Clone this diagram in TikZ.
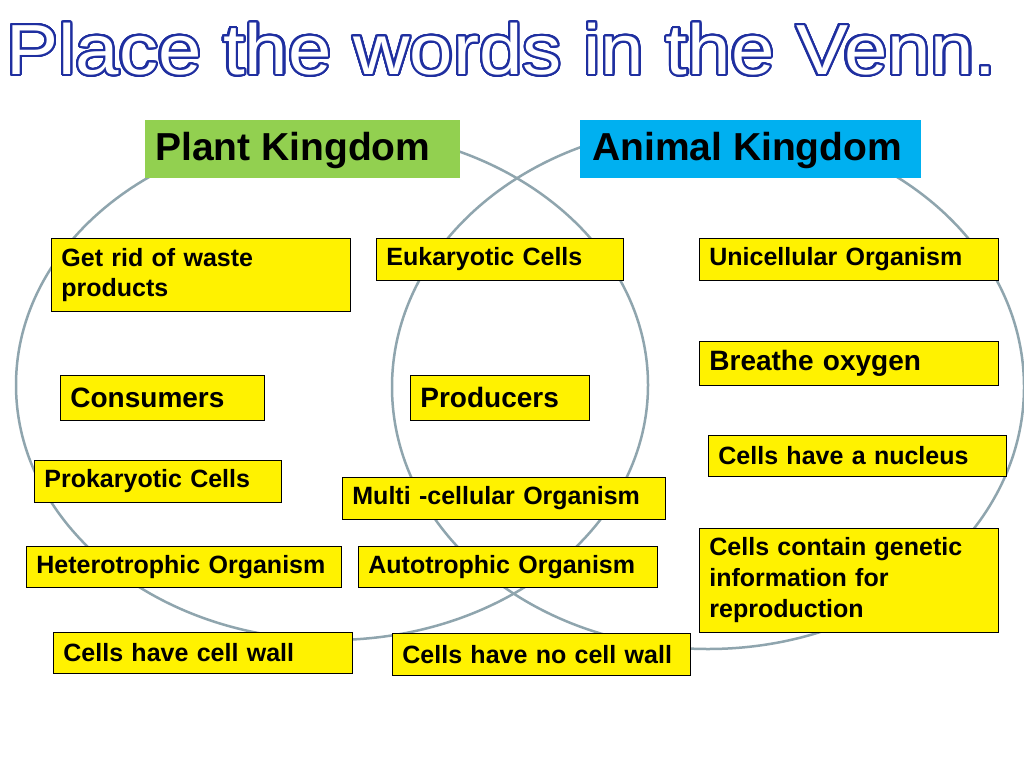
\documentclass[tikz,border=0pt]{standalone}
\usepackage{fontspec}
\setmainfont{Liberation Sans}
\usepackage{contour}
\contourlength{2pt}
\contournumber{32}
\definecolor{vennline}{HTML}{8FA5AE}
\definecolor{plantg}{HTML}{92D050}
\definecolor{animb}{HTML}{00B0F0}
\definecolor{titleblue}{HTML}{1F2FA0}
\begin{document}
\begin{tikzpicture}[x=1pt,y=-1pt,
  venn/.style={draw=vennline,line width=2.5pt},
  head/.style={anchor=north west,inner sep=0pt,font=\bfseries\fontsize{39}{44}\selectfont,align=left},
  box/.style={draw=black,line width=0.8pt,fill=yellow,anchor=north west,inner xsep=10pt,inner ysep=0pt,align=left,font=\bfseries\fontsize{25}{30}\selectfont}]
\useasboundingbox (0,0) rectangle (1024,768);
\fill[white] (0,0) rectangle (1024,768);
\draw[venn] (332,385) ellipse [x radius=316,y radius=255];
\draw[venn] (708,387) ellipse [x radius=316,y radius=262];
\node[anchor=west,inner sep=0pt,xscale=1.1] (title) at (6,50) {\fontsize{71}{80}\selectfont\contour{titleblue}{\textcolor{white}{Place the words in the Venn.}}};
\fill[plantg] (145,120) rectangle (460,178);
\node[head,anchor=west] (plant) at (155,151) {Plant Kingdom};
\fill[animb] (580,120) rectangle (921,178);
\node[head,anchor=west] (animal) at (592,151) {Animal Kingdom};
\node[box,minimum width=299pt,minimum height=73pt,text width=279pt] (b1) at (51,238) {Get rid of waste\\products};
\node[box,minimum width=247pt,minimum height=42pt,text width=227pt] (b2) at (376,238) {Eukaryotic Cells};
\node[box,minimum width=299pt,minimum height=42pt,text width=279pt] (b3) at (699,238) {Unicellular Organism};
\node[box,minimum width=299pt,minimum height=44pt,text width=279pt,font=\bfseries\fontsize{28}{32}\selectfont] (b4) at (699,341) {Breathe oxygen};
\node[box,minimum width=204pt,minimum height=45pt,text width=184pt,font=\bfseries\fontsize{28}{32}\selectfont] (b5) at (60,375) {Consumers};
\node[box,minimum width=179pt,minimum height=45pt,text width=159pt,font=\bfseries\fontsize{28}{32}\selectfont] (b6) at (410,375) {Producers};
\node[box,minimum width=298pt,minimum height=41pt,text width=278pt] (b7) at (708,435) {Cells have a nucleus};
\node[box,minimum width=247pt,minimum height=42pt,text width=227pt] (b8) at (34,460) {Prokaryotic Cells};
\node[box,minimum width=323pt,minimum height=42pt,text width=303pt] (b9) at (342,477) {Multi -cellular Organism};
\node[box,minimum width=299pt,minimum height=104pt,text width=279pt,font=\bfseries\fontsize{25}{31}\selectfont] (b10) at (699,528) {Cells contain genetic\\information for\\reproduction};
\node[box,minimum width=315pt,minimum height=41pt,text width=295pt] (b11) at (26,546) {Heterotrophic Organism};
\node[box,minimum width=299pt,minimum height=41pt,text width=279pt] (b12) at (358,546) {Autotrophic Organism};
\node[box,minimum width=299pt,minimum height=41pt,text width=279pt] (b13) at (53,632) {Cells have cell wall};
\node[box,minimum width=298pt,minimum height=42pt,text width=278pt] (b14) at (392,633) {Cells have no cell wall};
\end{tikzpicture}
\end{document}
